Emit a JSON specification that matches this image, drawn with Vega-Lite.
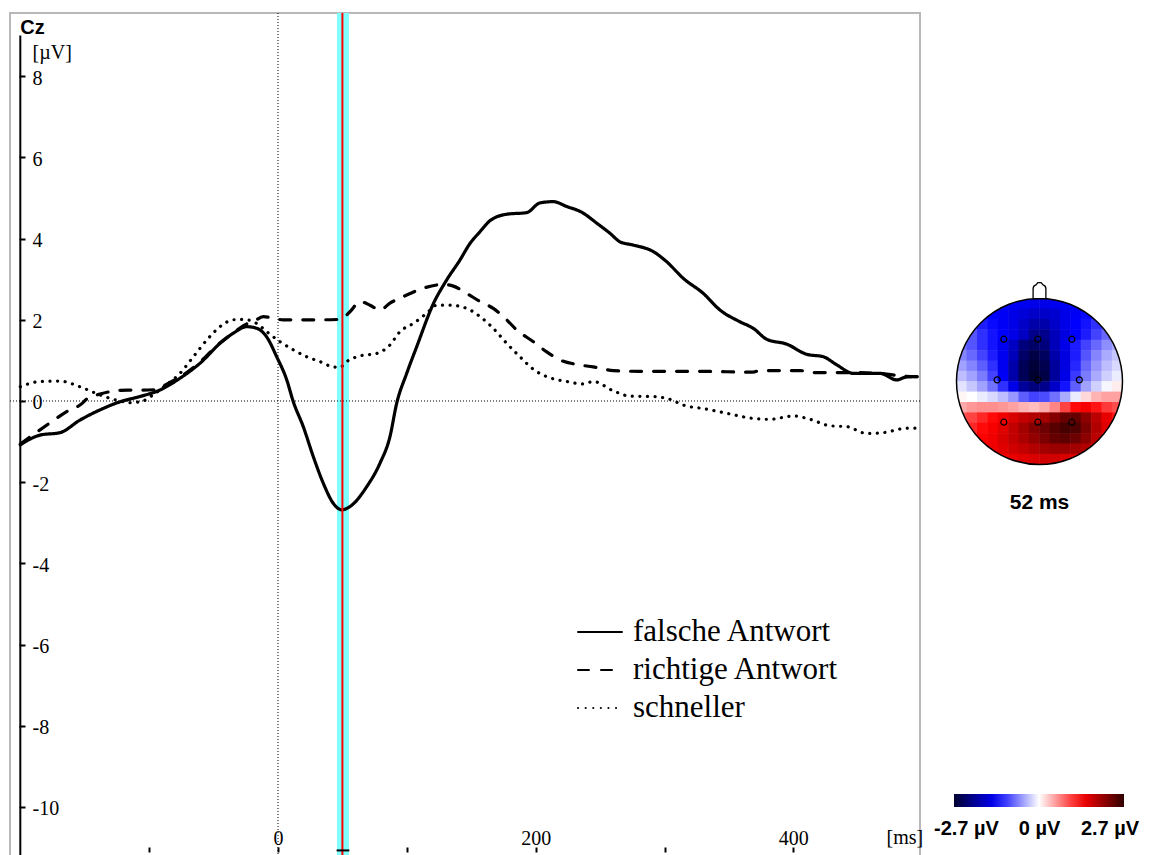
{
  "$schema": "https://vega.github.io/schema/vega-lite/v6.json",
  "width": 910,
  "height": 844,
  "autosize": {"type": "none"},
  "padding": {"left": 10, "top": 13, "right": 230, "bottom": 0},
  "background": "white",
  "config": {"view": {"stroke": "#b8b8b8", "strokeWidth": 2}},
  "datasets": {
    "erp": [
      {"s":"falsche Antwort","t":-200,"v":-1.08},{"s":"falsche Antwort","t":-184.7,"v":-0.84},{"s":"falsche Antwort","t":-169.2,"v":-0.78},{"s":"falsche Antwort","t":-153.7,"v":-0.47},{"s":"falsche Antwort","t":-138.2,"v":-0.22},{"s":"falsche Antwort","t":-122.6,"v":-0.02},{"s":"falsche Antwort","t":-107.1,"v":0.11},{"s":"falsche Antwort","t":-91.6,"v":0.27},{"s":"falsche Antwort","t":-76.1,"v":0.56},{"s":"falsche Antwort","t":-60.5,"v":0.93},{"s":"falsche Antwort","t":-45,"v":1.42},{"s":"falsche Antwort","t":-34.7,"v":1.67},{"s":"falsche Antwort","t":-24.3,"v":1.83},{"s":"falsche Antwort","t":-16.5,"v":1.79},{"s":"falsche Antwort","t":-8.8,"v":1.58},{"s":"falsche Antwort","t":-1,"v":1.09},{"s":"falsche Antwort","t":6.8,"v":0.52},{"s":"falsche Antwort","t":11.9,"v":-0.02},{"s":"falsche Antwort","t":19.6,"v":-0.63},{"s":"falsche Antwort","t":27.4,"v":-1.37},{"s":"falsche Antwort","t":35.2,"v":-2.03},{"s":"falsche Antwort","t":42.9,"v":-2.52},{"s":"falsche Antwort","t":49.4,"v":-2.68},{"s":"falsche Antwort","t":55.9,"v":-2.6},{"s":"falsche Antwort","t":68.9,"v":-2.11},{"s":"falsche Antwort","t":79.2,"v":-1.53},{"s":"falsche Antwort","t":86.9,"v":-0.88},{"s":"falsche Antwort","t":92.1,"v":-0.06},{"s":"falsche Antwort","t":99.9,"v":0.68},{"s":"falsche Antwort","t":107.7,"v":1.34},{"s":"falsche Antwort","t":120.5,"v":2.39},{"s":"falsche Antwort","t":130.9,"v":2.98},{"s":"falsche Antwort","t":141.2,"v":3.47},{"s":"falsche Antwort","t":149,"v":3.88},{"s":"falsche Antwort","t":156.8,"v":4.17},{"s":"falsche Antwort","t":164.5,"v":4.44},{"s":"falsche Antwort","t":177.5,"v":4.6},{"s":"falsche Antwort","t":193,"v":4.64},{"s":"falsche Antwort","t":203.4,"v":4.88},{"s":"falsche Antwort","t":213.7,"v":4.91},{"s":"falsche Antwort","t":224.1,"v":4.79},{"s":"falsche Antwort","t":235.7,"v":4.65},{"s":"falsche Antwort","t":247.4,"v":4.38},{"s":"falsche Antwort","t":257.7,"v":4.13},{"s":"falsche Antwort","t":265.5,"v":3.92},{"s":"falsche Antwort","t":275.8,"v":3.84},{"s":"falsche Antwort","t":291.3,"v":3.68},{"s":"falsche Antwort","t":301.7,"v":3.43},{"s":"falsche Antwort","t":314.6,"v":3.02},{"s":"falsche Antwort","t":330.1,"v":2.65},{"s":"falsche Antwort","t":343.1,"v":2.24},{"s":"falsche Antwort","t":358.6,"v":1.95},{"s":"falsche Antwort","t":368.9,"v":1.79},{"s":"falsche Antwort","t":379.3,"v":1.52},{"s":"falsche Antwort","t":394.9,"v":1.4},{"s":"falsche Antwort","t":410.4,"v":1.15},{"s":"falsche Antwort","t":423.3,"v":1.09},{"s":"falsche Antwort","t":433.7,"v":0.89},{"s":"falsche Antwort","t":446.6,"v":0.68},{"s":"falsche Antwort","t":467.3,"v":0.68},{"s":"falsche Antwort","t":480.2,"v":0.52},{"s":"falsche Antwort","t":487.5,"v":0.59},{"s":"falsche Antwort","t":496,"v":0.6},
      {"s":"richtige Antwort","t":-200,"v":-1.06},{"s":"richtige Antwort","t":-184.7,"v":-0.71},{"s":"richtige Antwort","t":-174.7,"v":-0.49},{"s":"richtige Antwort","t":-164,"v":-0.26},{"s":"richtige Antwort","t":-153.7,"v":-0.1},{"s":"richtige Antwort","t":-147.5,"v":0.07},{"s":"richtige Antwort","t":-138.2,"v":0.17},{"s":"richtige Antwort","t":-130.4,"v":0.23},{"s":"richtige Antwort","t":-116.4,"v":0.27},{"s":"richtige Antwort","t":-107.1,"v":0.27},{"s":"richtige Antwort","t":-93.9,"v":0.28},{"s":"richtige Antwort","t":-87.7,"v":0.39},{"s":"richtige Antwort","t":-76.1,"v":0.59},{"s":"richtige Antwort","t":-60.5,"v":0.96},{"s":"richtige Antwort","t":-45,"v":1.43},{"s":"richtige Antwort","t":-34.9,"v":1.67},{"s":"richtige Antwort","t":-24.3,"v":1.9},{"s":"richtige Antwort","t":-19.2,"v":1.95},{"s":"richtige Antwort","t":-11.4,"v":2.08},{"s":"richtige Antwort","t":-3.6,"v":2.04},{"s":"richtige Antwort","t":3.9,"v":2},{"s":"richtige Antwort","t":17.1,"v":2},{"s":"richtige Antwort","t":32.6,"v":2},{"s":"richtige Antwort","t":48.1,"v":2.01},{"s":"richtige Antwort","t":55.9,"v":2.2},{"s":"richtige Antwort","t":63.7,"v":2.45},{"s":"richtige Antwort","t":71.4,"v":2.36},{"s":"richtige Antwort","t":79.2,"v":2.24},{"s":"richtige Antwort","t":86.9,"v":2.41},{"s":"richtige Antwort","t":99.9,"v":2.61},{"s":"richtige Antwort","t":112.8,"v":2.78},{"s":"richtige Antwort","t":128.3,"v":2.87},{"s":"richtige Antwort","t":136.1,"v":2.83},{"s":"richtige Antwort","t":146.5,"v":2.65},{"s":"richtige Antwort","t":156.8,"v":2.45},{"s":"richtige Antwort","t":167.1,"v":2.28},{"s":"richtige Antwort","t":177.5,"v":2},{"s":"richtige Antwort","t":185.3,"v":1.75},{"s":"richtige Antwort","t":198.2,"v":1.46},{"s":"richtige Antwort","t":208.6,"v":1.21},{"s":"richtige Antwort","t":218.9,"v":1.01},{"s":"richtige Antwort","t":231.9,"v":0.9},{"s":"richtige Antwort","t":244.7,"v":0.84},{"s":"richtige Antwort","t":260.3,"v":0.75},{"s":"richtige Antwort","t":281,"v":0.73},{"s":"richtige Antwort","t":327.6,"v":0.73},{"s":"richtige Antwort","t":368.7,"v":0.71},{"s":"richtige Antwort","t":374.1,"v":0.75},{"s":"richtige Antwort","t":405.2,"v":0.75},{"s":"richtige Antwort","t":415.5,"v":0.7},{"s":"richtige Antwort","t":444,"v":0.7},{"s":"richtige Antwort","t":467.3,"v":0.68},{"s":"richtige Antwort","t":482.8,"v":0.62},{"s":"richtige Antwort","t":496,"v":0.6},
      {"s":"schneller","t":-200,"v":0.35},{"s":"schneller","t":-184.7,"v":0.48},{"s":"schneller","t":-169.2,"v":0.49},{"s":"schneller","t":-153.7,"v":0.35},{"s":"schneller","t":-138.2,"v":0.15},{"s":"schneller","t":-122.6,"v":0},{"s":"schneller","t":-114.9,"v":-0.04},{"s":"schneller","t":-104.8,"v":0},{"s":"schneller","t":-97,"v":0.15},{"s":"schneller","t":-87.7,"v":0.37},{"s":"schneller","t":-76.1,"v":0.68},{"s":"schneller","t":-65.7,"v":1.09},{"s":"schneller","t":-55.3,"v":1.5},{"s":"schneller","t":-45,"v":1.83},{"s":"schneller","t":-34.7,"v":2},{"s":"schneller","t":-26.9,"v":2.01},{"s":"schneller","t":-16.5,"v":1.91},{"s":"schneller","t":-8.8,"v":1.71},{"s":"schneller","t":1.6,"v":1.46},{"s":"schneller","t":11.9,"v":1.26},{"s":"schneller","t":22.3,"v":1.09},{"s":"schneller","t":32.6,"v":0.97},{"s":"schneller","t":42.9,"v":0.84},{"s":"schneller","t":48.1,"v":0.83},{"s":"schneller","t":53.3,"v":0.97},{"s":"schneller","t":63.7,"v":1.11},{"s":"schneller","t":76.6,"v":1.17},{"s":"schneller","t":86.9,"v":1.38},{"s":"schneller","t":94.7,"v":1.71},{"s":"schneller","t":105,"v":1.91},{"s":"schneller","t":115.4,"v":2.16},{"s":"schneller","t":123.2,"v":2.36},{"s":"schneller","t":133.5,"v":2.36},{"s":"schneller","t":146.5,"v":2.28},{"s":"schneller","t":156.8,"v":2.08},{"s":"schneller","t":167.1,"v":1.79},{"s":"schneller","t":177.5,"v":1.42},{"s":"schneller","t":187.8,"v":1.09},{"s":"schneller","t":198.2,"v":0.78},{"s":"schneller","t":208.6,"v":0.6},{"s":"schneller","t":224.1,"v":0.48},{"s":"schneller","t":237,"v":0.42},{"s":"schneller","t":244.7,"v":0.48},{"s":"schneller","t":260.3,"v":0.25},{"s":"schneller","t":273.2,"v":0.12},{"s":"schneller","t":291.3,"v":0.11},{"s":"schneller","t":304.3,"v":0.04},{"s":"schneller","t":314.6,"v":-0.1},{"s":"schneller","t":332.8,"v":-0.2},{"s":"schneller","t":350.9,"v":-0.32},{"s":"schneller","t":368.9,"v":-0.43},{"s":"schneller","t":381.9,"v":-0.45},{"s":"schneller","t":400,"v":-0.37},{"s":"schneller","t":412.9,"v":-0.45},{"s":"schneller","t":428.4,"v":-0.61},{"s":"schneller","t":441.4,"v":-0.63},{"s":"schneller","t":456.9,"v":-0.8},{"s":"schneller","t":469.8,"v":-0.78},{"s":"schneller","t":488,"v":-0.67},{"s":"schneller","t":496,"v":-0.67}
    ],
    "cells": [
      {"hx":-0.4375,"hy":0.9375,"v":-1.35},{"hx":-0.3125,"hy":0.9375,"v":-1.4},{"hx":-0.1875,"hy":0.9375,"v":-1.45},{"hx":-0.0625,"hy":0.9375,"v":-1.5},{"hx":0.0625,"hy":0.9375,"v":-1.5},{"hx":0.1875,"hy":0.9375,"v":-1.45},{"hx":0.3125,"hy":0.9375,"v":-1.4},{"hx":0.4375,"hy":0.9375,"v":-1.35},
      {"hx":-0.6875,"hy":0.8125,"v":-1.25},{"hx":-0.5625,"hy":0.8125,"v":-1.35},{"hx":-0.4375,"hy":0.8125,"v":-1.4},{"hx":-0.3125,"hy":0.8125,"v":-1.5},{"hx":-0.1875,"hy":0.8125,"v":-1.6},{"hx":-0.0625,"hy":0.8125,"v":-1.7},{"hx":0.0625,"hy":0.8125,"v":-1.7},{"hx":0.1875,"hy":0.8125,"v":-1.65},{"hx":0.3125,"hy":0.8125,"v":-1.5},{"hx":0.4375,"hy":0.8125,"v":-1.4},{"hx":0.5625,"hy":0.8125,"v":-1.3},{"hx":0.6875,"hy":0.8125,"v":-1.25},
      {"hx":-0.8125,"hy":0.6875,"v":-1.0},{"hx":-0.6875,"hy":0.6875,"v":-1.2},{"hx":-0.5625,"hy":0.6875,"v":-1.3},{"hx":-0.4375,"hy":0.6875,"v":-1.4},{"hx":-0.3125,"hy":0.6875,"v":-1.5},{"hx":-0.1875,"hy":0.6875,"v":-1.7},{"hx":-0.0625,"hy":0.6875,"v":-1.9},{"hx":0.0625,"hy":0.6875,"v":-1.9},{"hx":0.1875,"hy":0.6875,"v":-1.7},{"hx":0.3125,"hy":0.6875,"v":-1.5},{"hx":0.4375,"hy":0.6875,"v":-1.35},{"hx":0.5625,"hy":0.6875,"v":-1.25},{"hx":0.6875,"hy":0.6875,"v":-1.1},{"hx":0.8125,"hy":0.6875,"v":-0.95},
      {"hx":-0.8125,"hy":0.5625,"v":-0.9},{"hx":-0.6875,"hy":0.5625,"v":-1.1},{"hx":-0.5625,"hy":0.5625,"v":-1.25},{"hx":-0.4375,"hy":0.5625,"v":-1.35},{"hx":-0.3125,"hy":0.5625,"v":-1.5},{"hx":-0.1875,"hy":0.5625,"v":-1.75},{"hx":-0.0625,"hy":0.5625,"v":-2.1},{"hx":0.0625,"hy":0.5625,"v":-2.1},{"hx":0.1875,"hy":0.5625,"v":-1.8},{"hx":0.3125,"hy":0.5625,"v":-1.55},{"hx":0.4375,"hy":0.5625,"v":-1.35},{"hx":0.5625,"hy":0.5625,"v":-1.2},{"hx":0.6875,"hy":0.5625,"v":-1.0},{"hx":0.8125,"hy":0.5625,"v":-0.8},
      {"hx":-0.9375,"hy":0.4375,"v":-0.75},{"hx":-0.8125,"hy":0.4375,"v":-0.9},{"hx":-0.6875,"hy":0.4375,"v":-1.1},{"hx":-0.5625,"hy":0.4375,"v":-1.25},{"hx":-0.4375,"hy":0.4375,"v":-1.45},{"hx":-0.3125,"hy":0.4375,"v":-1.75},{"hx":-0.1875,"hy":0.4375,"v":-2.2},{"hx":-0.0625,"hy":0.4375,"v":-2.35},{"hx":0.0625,"hy":0.4375,"v":-2.2},{"hx":0.1875,"hy":0.4375,"v":-1.8},{"hx":0.3125,"hy":0.4375,"v":-1.5},{"hx":0.4375,"hy":0.4375,"v":-1.2},{"hx":0.5625,"hy":0.4375,"v":-1.0},{"hx":0.6875,"hy":0.4375,"v":-0.8},{"hx":0.8125,"hy":0.4375,"v":-0.6},{"hx":0.9375,"hy":0.4375,"v":-0.45},
      {"hx":-0.9375,"hy":0.3125,"v":-0.65},{"hx":-0.8125,"hy":0.3125,"v":-0.8},{"hx":-0.6875,"hy":0.3125,"v":-1.0},{"hx":-0.5625,"hy":0.3125,"v":-1.2},{"hx":-0.4375,"hy":0.3125,"v":-1.45},{"hx":-0.3125,"hy":0.3125,"v":-1.8},{"hx":-0.1875,"hy":0.3125,"v":-2.35},{"hx":-0.0625,"hy":0.3125,"v":-2.55},{"hx":0.0625,"hy":0.3125,"v":-2.4},{"hx":0.1875,"hy":0.3125,"v":-1.9},{"hx":0.3125,"hy":0.3125,"v":-1.55},{"hx":0.4375,"hy":0.3125,"v":-1.2},{"hx":0.5625,"hy":0.3125,"v":-0.9},{"hx":0.6875,"hy":0.3125,"v":-0.65},{"hx":0.8125,"hy":0.3125,"v":-0.45},{"hx":0.9375,"hy":0.3125,"v":-0.3},
      {"hx":-0.9375,"hy":0.1875,"v":-0.5},{"hx":-0.8125,"hy":0.1875,"v":-0.65},{"hx":-0.6875,"hy":0.1875,"v":-0.85},{"hx":-0.5625,"hy":0.1875,"v":-1.1},{"hx":-0.4375,"hy":0.1875,"v":-1.45},{"hx":-0.3125,"hy":0.1875,"v":-1.9},{"hx":-0.1875,"hy":0.1875,"v":-2.45},{"hx":-0.0625,"hy":0.1875,"v":-2.65},{"hx":0.0625,"hy":0.1875,"v":-2.5},{"hx":0.1875,"hy":0.1875,"v":-2.0},{"hx":0.3125,"hy":0.1875,"v":-1.55},{"hx":0.4375,"hy":0.1875,"v":-1.15},{"hx":0.5625,"hy":0.1875,"v":-0.8},{"hx":0.6875,"hy":0.1875,"v":-0.55},{"hx":0.8125,"hy":0.1875,"v":-0.35},{"hx":0.9375,"hy":0.1875,"v":-0.2},
      {"hx":-0.9375,"hy":0.0625,"v":-0.35},{"hx":-0.8125,"hy":0.0625,"v":-0.5},{"hx":-0.6875,"hy":0.0625,"v":-0.7},{"hx":-0.5625,"hy":0.0625,"v":-1.0},{"hx":-0.4375,"hy":0.0625,"v":-1.4},{"hx":-0.3125,"hy":0.0625,"v":-1.9},{"hx":-0.1875,"hy":0.0625,"v":-2.45},{"hx":-0.0625,"hy":0.0625,"v":-2.7},{"hx":0.0625,"hy":0.0625,"v":-2.55},{"hx":0.1875,"hy":0.0625,"v":-2.0},{"hx":0.3125,"hy":0.0625,"v":-1.5},{"hx":0.4375,"hy":0.0625,"v":-1.05},{"hx":0.5625,"hy":0.0625,"v":-0.7},{"hx":0.6875,"hy":0.0625,"v":-0.45},{"hx":0.8125,"hy":0.0625,"v":-0.25},{"hx":0.9375,"hy":0.0625,"v":-0.1},
      {"hx":-0.9375,"hy":-0.0625,"v":-0.15},{"hx":-0.8125,"hy":-0.0625,"v":-0.3},{"hx":-0.6875,"hy":-0.0625,"v":-0.5},{"hx":-0.5625,"hy":-0.0625,"v":-0.75},{"hx":-0.4375,"hy":-0.0625,"v":-1.1},{"hx":-0.3125,"hy":-0.0625,"v":-1.5},{"hx":-0.1875,"hy":-0.0625,"v":-2.0},{"hx":-0.0625,"hy":-0.0625,"v":-2.2},{"hx":0.0625,"hy":-0.0625,"v":-2.1},{"hx":0.1875,"hy":-0.0625,"v":-1.7},{"hx":0.3125,"hy":-0.0625,"v":-1.25},{"hx":0.4375,"hy":-0.0625,"v":-0.85},{"hx":0.5625,"hy":-0.0625,"v":-0.5},{"hx":0.6875,"hy":-0.0625,"v":-0.25},{"hx":0.8125,"hy":-0.0625,"v":-0.05},{"hx":0.9375,"hy":-0.0625,"v":0.1},
      {"hx":-0.9375,"hy":-0.1875,"v":0.05},{"hx":-0.8125,"hy":-0.1875,"v":0.0},{"hx":-0.6875,"hy":-0.1875,"v":-0.1},{"hx":-0.5625,"hy":-0.1875,"v":-0.2},{"hx":-0.4375,"hy":-0.1875,"v":-0.35},{"hx":-0.3125,"hy":-0.1875,"v":-0.55},{"hx":-0.1875,"hy":-0.1875,"v":-0.85},{"hx":-0.0625,"hy":-0.1875,"v":-1.0},{"hx":0.0625,"hy":-0.1875,"v":-0.95},{"hx":0.1875,"hy":-0.1875,"v":-0.75},{"hx":0.3125,"hy":-0.1875,"v":-0.45},{"hx":0.4375,"hy":-0.1875,"v":-0.1},{"hx":0.5625,"hy":-0.1875,"v":0.2},{"hx":0.6875,"hy":-0.1875,"v":0.4},{"hx":0.8125,"hy":-0.1875,"v":0.5},{"hx":0.9375,"hy":-0.1875,"v":0.5},
      {"hx":-0.9375,"hy":-0.3125,"v":0.45},{"hx":-0.8125,"hy":-0.3125,"v":0.55},{"hx":-0.6875,"hy":-0.3125,"v":0.6},{"hx":-0.5625,"hy":-0.3125,"v":0.6},{"hx":-0.4375,"hy":-0.3125,"v":0.55},{"hx":-0.3125,"hy":-0.3125,"v":0.5},{"hx":-0.1875,"hy":-0.3125,"v":0.4},{"hx":-0.0625,"hy":-0.3125,"v":0.35},{"hx":0.0625,"hy":-0.3125,"v":0.45},{"hx":0.1875,"hy":-0.3125,"v":0.65},{"hx":0.3125,"hy":-0.3125,"v":1.0},{"hx":0.4375,"hy":-0.3125,"v":1.3},{"hx":0.5625,"hy":-0.3125,"v":1.4},{"hx":0.6875,"hy":-0.3125,"v":1.25},{"hx":0.8125,"hy":-0.3125,"v":1.05},{"hx":0.9375,"hy":-0.3125,"v":0.95},
      {"hx":-0.9375,"hy":-0.4375,"v":0.9},{"hx":-0.8125,"hy":-0.4375,"v":1.0},{"hx":-0.6875,"hy":-0.4375,"v":1.15},{"hx":-0.5625,"hy":-0.4375,"v":1.3},{"hx":-0.4375,"hy":-0.4375,"v":1.45},{"hx":-0.3125,"hy":-0.4375,"v":1.6},{"hx":-0.1875,"hy":-0.4375,"v":1.75},{"hx":-0.0625,"hy":-0.4375,"v":1.85},{"hx":0.0625,"hy":-0.4375,"v":1.95},{"hx":0.1875,"hy":-0.4375,"v":2.15},{"hx":0.3125,"hy":-0.4375,"v":2.35},{"hx":0.4375,"hy":-0.4375,"v":2.35},{"hx":0.5625,"hy":-0.4375,"v":2.1},{"hx":0.6875,"hy":-0.4375,"v":1.8},{"hx":0.8125,"hy":-0.4375,"v":1.5},{"hx":0.9375,"hy":-0.4375,"v":1.25},
      {"hx":-0.8125,"hy":-0.5625,"v":1.15},{"hx":-0.6875,"hy":-0.5625,"v":1.3},{"hx":-0.5625,"hy":-0.5625,"v":1.4},{"hx":-0.4375,"hy":-0.5625,"v":1.55},{"hx":-0.3125,"hy":-0.5625,"v":1.75},{"hx":-0.1875,"hy":-0.5625,"v":1.95},{"hx":-0.0625,"hy":-0.5625,"v":2.15},{"hx":0.0625,"hy":-0.5625,"v":2.3},{"hx":0.1875,"hy":-0.5625,"v":2.45},{"hx":0.3125,"hy":-0.5625,"v":2.55},{"hx":0.4375,"hy":-0.5625,"v":2.5},{"hx":0.5625,"hy":-0.5625,"v":2.2},{"hx":0.6875,"hy":-0.5625,"v":1.85},{"hx":0.8125,"hy":-0.5625,"v":1.55},
      {"hx":-0.8125,"hy":-0.6875,"v":1.25},{"hx":-0.6875,"hy":-0.6875,"v":1.35},{"hx":-0.5625,"hy":-0.6875,"v":1.45},{"hx":-0.4375,"hy":-0.6875,"v":1.6},{"hx":-0.3125,"hy":-0.6875,"v":1.75},{"hx":-0.1875,"hy":-0.6875,"v":1.9},{"hx":-0.0625,"hy":-0.6875,"v":2.05},{"hx":0.0625,"hy":-0.6875,"v":2.2},{"hx":0.1875,"hy":-0.6875,"v":2.35},{"hx":0.3125,"hy":-0.6875,"v":2.4},{"hx":0.4375,"hy":-0.6875,"v":2.3},{"hx":0.5625,"hy":-0.6875,"v":2.1},{"hx":0.6875,"hy":-0.6875,"v":1.8},{"hx":0.8125,"hy":-0.6875,"v":1.55},
      {"hx":-0.6875,"hy":-0.8125,"v":1.35},{"hx":-0.5625,"hy":-0.8125,"v":1.45},{"hx":-0.4375,"hy":-0.8125,"v":1.55},{"hx":-0.3125,"hy":-0.8125,"v":1.65},{"hx":-0.1875,"hy":-0.8125,"v":1.75},{"hx":-0.0625,"hy":-0.8125,"v":1.85},{"hx":0.0625,"hy":-0.8125,"v":1.95},{"hx":0.1875,"hy":-0.8125,"v":2.0},{"hx":0.3125,"hy":-0.8125,"v":2.0},{"hx":0.4375,"hy":-0.8125,"v":1.95},{"hx":0.5625,"hy":-0.8125,"v":1.85},{"hx":0.6875,"hy":-0.8125,"v":1.7},
      {"hx":-0.4375,"hy":-0.9375,"v":1.4},{"hx":-0.3125,"hy":-0.9375,"v":1.5},{"hx":-0.1875,"hy":-0.9375,"v":1.55},{"hx":-0.0625,"hy":-0.9375,"v":1.6},{"hx":0.0625,"hy":-0.9375,"v":1.65},{"hx":0.1875,"hy":-0.9375,"v":1.65},{"hx":0.3125,"hy":-0.9375,"v":1.6},{"hx":0.4375,"hy":-0.9375,"v":1.55}
    ],
    "elec": [
      {"name":"F3","ex":-0.43,"ey":0.51},{"name":"Fz","ex":-0.02,"ey":0.51},{"name":"F4","ex":0.39,"ey":0.51},
      {"name":"C3","ex":-0.51,"ey":0.02},{"name":"Cz","ex":-0.02,"ey":0.02},{"name":"C4","ex":0.48,"ey":0.02},
      {"name":"P3","ex":-0.43,"ey":-0.49},{"name":"Pz","ex":-0.02,"ey":-0.49},{"name":"P4","ex":0.39,"ey":-0.49}
    ]
  },
  "layer": [
    {
      "layer": [
        {"data": {"values": [{}]}, "mark": {"type": "rect", "color": "#80ffff"}, "encoding": {"x": {"datum": 45.8}, "x2": {"datum": 55.1}}},
        {"data": {"values": [{}]}, "mark": {"type": "rule", "color": "black", "strokeWidth": 1, "strokeDash": [1, 2]}, "encoding": {"x": {"datum": 0}}},
        {"data": {"values": [{}]}, "mark": {"type": "rule", "color": "black", "strokeWidth": 1, "strokeDash": [1, 2]}, "encoding": {"y": {"datum": 0}}},
        {"data": {"values": [{}]}, "mark": {"type": "rule", "color": "black", "strokeWidth": 2}, "encoding": {"x": {"datum": -200}, "y": {"datum": -11.3}, "y2": {"datum": 9}}},
        {"data": {"values": [{"label": "Cz"}]}, "mark": {"type": "text", "font": "Liberation Sans", "fontSize": 20, "fontWeight": "bold", "color": "black", "align": "left", "baseline": "alphabetic"}, "encoding": {"x": {"datum": -200}, "y": {"datum": 9.05}, "text": {"field": "label"}}},
        {
          "data": {"name": "erp"},
          "mark": {"type": "line", "color": "black", "strokeWidth": 3.2, "strokeCap": "round", "interpolate": "monotone"},
          "encoding": {
            "x": {"field": "t", "type": "quantitative",
              "scale": {"domain": [-208, 498.3], "nice": false, "zero": false},
              "axis": {"values": [-100, 0, 100, 200, 300, 400], "offset": -5, "domain": false, "grid": false, "tickSize": -5, "tickWidth": 2, "tickColor": "black", "labelPadding": -3, "labelBaseline": "alphabetic", "labelExpr": "datum.value % 200 === 0 ? '' + datum.value : ''", "labelFont": "Liberation Serif", "labelFontSize": 20, "labelColor": "black", "labelFlush": false, "labelOverlap": false, "title": "[ms]", "titleX": 876, "titleY": -8.5, "titleAlign": "left", "titleAnchor": null, "titleBaseline": "alphabetic", "titleFont": "Liberation Serif", "titleFontSize": 20, "titleFontWeight": "normal", "titleColor": "black"}},
            "y": {"field": "v", "type": "quantitative",
              "scale": {"domain": [-11.232, 9.557], "nice": false, "zero": false},
              "axis": {"values": [-10, -8, -6, -4, -2, 0, 2, 4, 6, 8], "offset": -9, "domain": false, "grid": false, "tickSize": -6, "tickWidth": 2, "tickColor": "black", "labelPadding": -7, "labelAlign": "left", "labelBaseline": "middle", "labelOffset": 2, "labelExpr": "datum.value < 0 ? '-' + abs(datum.value) : '' + datum.value", "labelFont": "Liberation Serif", "labelFontSize": 20, "labelColor": "black", "title": "[µV]", "titleAngle": 0, "titleX": 13, "titleY": 45, "titleAlign": "left", "titleAnchor": null, "titleBaseline": "alphabetic", "titleFont": "Liberation Serif", "titleFontSize": 20, "titleFontWeight": "normal", "titleColor": "black"}},
            "strokeDash": {"field": "s", "type": "nominal",
              "scale": {"domain": ["falsche Antwort", "richtige Antwort", "schneller"], "range": [[1, 0], [11, 12], [0.1, 7.5]]},
              "legend": {"orient": "none", "legendX": 567, "legendY": 596, "title": null, "symbolType": "stroke", "symbolSize": 1936, "symbolStrokeWidth": 2, "symbolStrokeColor": "black", "labelFont": "Liberation Serif", "labelFontSize": 31, "labelColor": "black", "labelOffset": 10, "rowPadding": -10, "labelLimit": 0, "padding": 0,
                "encode": {"symbols": {"update": {"strokeCap": {"value": "round"}}}}}}
          }
        },
        {"data": {"values": [{}]}, "mark": {"type": "rule", "color": "#ff0000", "strokeWidth": 2}, "encoding": {"x": {"datum": 50}}},
        {"data": {"values": [{}]}, "mark": {"type": "rule", "color": "black", "strokeWidth": 2}, "encoding": {"x": {"datum": 45.5}, "x2": {"datum": 55.4}, "y": {"datum": -11.07}}}
      ]
    },
    {
      "layer": [
        {
          "data": {"name": "cells"},
          "mark": {"type": "point", "shape": "square", "filled": true, "size": 119, "strokeWidth": 0, "opacity": 1},
          "encoding": {
            "x": {"field": "hx", "type": "quantitative", "scale": {"domain": [-12.4036, -1.4397], "nice": false, "zero": false}, "axis": null},
            "y": {"field": "hy", "type": "quantitative", "scale": {"domain": [-5.7289, 4.4398], "nice": false, "zero": false}, "axis": null},
            "color": {"field": "v", "type": "quantitative",
              "scale": {"type": "linear", "domain": [-2.7, -1.35, 0, 1.35, 2.7], "range": ["#000030", "#0000ff", "#ffffff", "#ff0000", "#300000"], "interpolate": "rgb"},
              "legend": {"orient": "none", "legendX": 944, "legendY": 781, "direction": "horizontal", "gradientLength": 170, "gradientThickness": 13, "title": null, "values": [-2.7, 0, 2.7], "labelOpacity": 0, "labelFontSize": 1, "gradientStrokeWidth": 0, "padding": 0}}
          }
        },
        {"data": {"values": [{}]}, "mark": {"type": "point", "shape": "circle", "size": 33856, "filled": false, "stroke": "white", "strokeWidth": 18, "opacity": 1}, "encoding": {"x": {"datum": 0}, "y": {"datum": 0}}},
        {"data": {"values": [{}]}, "mark": {"type": "point", "shape": "circle", "size": 27556, "filled": false, "stroke": "black", "strokeWidth": 1.5, "opacity": 1}, "encoding": {"x": {"datum": 0}, "y": {"datum": 0}}},
        {"data": {"values": [{}]}, "mark": {"type": "point", "shape": "M-0.8,1 L-0.8,-0.2 Q-0.8,-0.6 -0.45,-0.7 L-0.2,-1 L0.2,-1 L0.45,-0.7 Q0.8,-0.6 0.8,-0.2 L0.8,1 Z", "size": 256, "filled": true, "fill": "white", "stroke": "black", "strokeWidth": 1.3, "opacity": 1}, "encoding": {"x": {"datum": 0}, "y": {"datum": 1.096}}},
        {"data": {"name": "elec"}, "mark": {"type": "point", "shape": "circle", "size": 36, "filled": false, "stroke": "black", "strokeWidth": 1.2, "opacity": 1}, "encoding": {"x": {"field": "ex", "type": "quantitative"}, "y": {"field": "ey", "type": "quantitative"}}},
        {"data": {"values": [{"label": "52 ms"}]}, "mark": {"type": "text", "font": "Liberation Sans", "fontSize": 21, "fontWeight": "bold", "color": "black", "align": "center", "baseline": "alphabetic"}, "encoding": {"x": {"datum": 0}, "y": {"datum": -1.536}, "text": {"field": "label"}}},
        {"data": {"values": [{"label": "-2.7 µV"}]}, "mark": {"type": "text", "font": "Liberation Sans", "fontSize": 20, "fontWeight": "bold", "color": "black", "align": "center", "baseline": "alphabetic"}, "encoding": {"x": {"datum": -0.88}, "y": {"datum": -5.464}, "text": {"field": "label"}}},
        {"data": {"values": [{"label": "0 µV"}]}, "mark": {"type": "text", "font": "Liberation Sans", "fontSize": 20, "fontWeight": "bold", "color": "black", "align": "center", "baseline": "alphabetic"}, "encoding": {"x": {"datum": 0}, "y": {"datum": -5.464}, "text": {"field": "label"}}},
        {"data": {"values": [{"label": "2.7 µV"}]}, "mark": {"type": "text", "font": "Liberation Sans", "fontSize": 20, "fontWeight": "bold", "color": "black", "align": "center", "baseline": "alphabetic"}, "encoding": {"x": {"datum": 0.85}, "y": {"datum": -5.464}, "text": {"field": "label"}}}
      ]
    }
  ],
  "resolve": {"scale": {"x": "independent", "y": "independent"}}
}
